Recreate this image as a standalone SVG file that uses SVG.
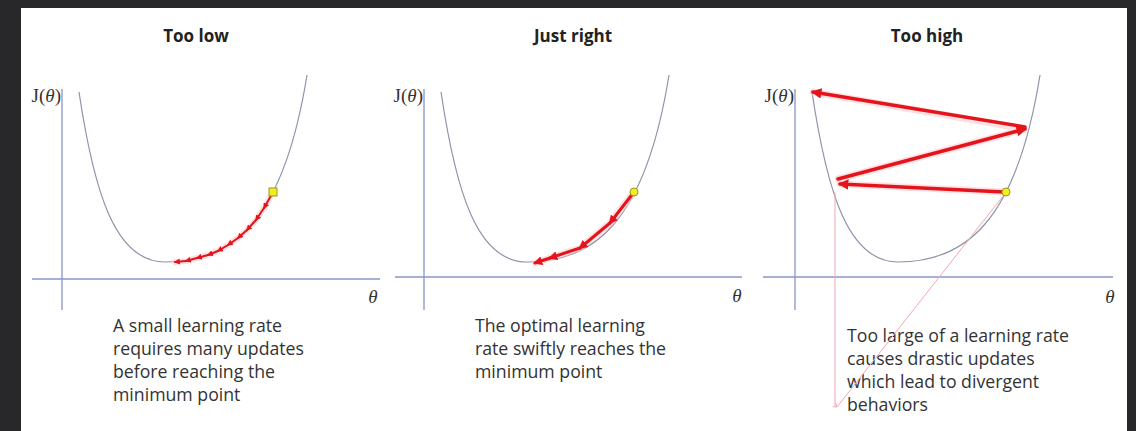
<svg xmlns="http://www.w3.org/2000/svg" width="1136" height="431" viewBox="0 0 1136 431">
<style>
.title{font-family:"Open Sans","Liberation Sans",sans-serif;font-weight:bold;font-size:17px;fill:#222;text-anchor:middle}
.body{font-family:"Open Sans","Liberation Sans",sans-serif;font-size:17.7px;fill:#333}
.math{font-family:"Liberation Serif",serif;font-size:19px;fill:#333}
.axis{stroke:#8a94c6;stroke-width:1.3;fill:none}
.curve{stroke:#8e94aa;stroke-width:1.2;fill:none}
.glow{stroke:#ffc8cc;stroke-linecap:round;fill:none;opacity:.55}
.red{stroke:#e5141c;fill:none;stroke-linecap:round}
.pink{stroke:#f3a6b4;stroke-width:1;fill:none}
.pt{fill:#f2ee22;stroke:#9a9a1a;stroke-width:1}
</style>
<defs>
<marker id="ah" viewBox="0 0 10 10" refX="8" refY="5" markerWidth="3" markerHeight="3" orient="auto">
<path d="M0,0 L10,5 L0,10 z" fill="#e5141c"/>
</marker>
<marker id="ahp" viewBox="0 0 10 10" refX="5" refY="2" markerWidth="6" markerHeight="6" orient="auto" markerUnits="userSpaceOnUse">
<path d="M1,8 L5,2 L9,8" fill="none" stroke="#f3a6b4" stroke-width="1.5"/>
</marker>
<path id="cv" d="M79,92 C94,192 115,262 165,262 C230,262 283,225 307,75"/>
</defs>
<rect width="1136" height="431" fill="#28282b"/>
<rect x="21" y="8" width="1106" height="423" fill="#ffffff"/>

<g id="panel-low">
<text class="title" x="196" y="42">Too low</text>
<text class="math" x="61" y="102" text-anchor="end">J(<tspan font-style="italic">θ</tspan>)</text>
<line class="axis" x1="62" y1="89" x2="62" y2="310"/>
<line class="axis" x1="32" y1="279" x2="380" y2="279"/>
<text class="math" x="373" y="303" text-anchor="middle" font-style="italic">θ</text>
<use href="#cv" class="curve"/>
<text class="body" x="113" y="332">A small learning rate</text>
<text class="body" x="113" y="355">requires many updates</text>
<text class="body" x="113" y="378">before reaching the</text>
<text class="body" x="113" y="401">minimum point</text>
</g>

<g id="panel-right">
<text class="title" x="573" y="42">Just right</text>
<text class="math" x="423" y="102" text-anchor="end">J(<tspan font-style="italic">θ</tspan>)</text>
<line class="axis" x1="424" y1="89" x2="424" y2="310"/>
<line class="axis" x1="395" y1="277" x2="742" y2="277"/>
<text class="math" x="737" y="302" text-anchor="middle" font-style="italic">θ</text>
<use href="#cv" class="curve" transform="translate(362,0)"/>
<text class="body" x="475" y="332">The optimal learning</text>
<text class="body" x="475" y="355">rate swiftly reaches the</text>
<text class="body" x="475" y="378">minimum point</text>
</g>

<g id="panel-high">
<text class="title" x="927" y="42">Too high</text>
<text class="math" x="794" y="102" text-anchor="end">J(<tspan font-style="italic">θ</tspan>)</text>
<line class="axis" x1="795" y1="89" x2="795" y2="310"/>
<line class="axis" x1="763" y1="277" x2="1113" y2="277"/>
<text class="math" x="1110" y="303" text-anchor="middle" font-style="italic">θ</text>
<use href="#cv" class="curve" transform="translate(733,0)"/>
<text class="body" x="847" y="342">Too large of a learning rate</text>
<text class="body" x="847" y="365">causes drastic updates</text>
<text class="body" x="847" y="388">which lead to divergent</text>
<text class="body" x="847" y="411">behaviors</text>
</g>

<g id="connectors">
<path class="glow" stroke-width="6" d="M272,194 L264,208 L256,220 L247,230 L238,238 L228,245 L218,251 L208,255 L197,258 L186,261 L175,262"/>
<g class="red" stroke-width="2" marker-end="url(#ah)">
<line x1="272" y1="194" x2="264" y2="208"/>
<line x1="264" y1="208" x2="256" y2="220"/>
<line x1="256" y1="220" x2="247" y2="230"/>
<line x1="247" y1="230" x2="238" y2="238"/>
<line x1="238" y1="238" x2="228" y2="245"/>
<line x1="228" y1="245" x2="218" y2="251"/>
<line x1="218" y1="251" x2="208" y2="255"/>
<line x1="208" y1="255" x2="197" y2="258"/>
<line x1="197" y1="258" x2="186" y2="261"/>
<line x1="186" y1="261" x2="175" y2="262"/>
</g>
<path class="glow" stroke-width="7" d="M634,192 L610,223 L580,248 L550,258 L535,263"/>
<g class="red" stroke-width="3" marker-end="url(#ah)">
<line x1="634" y1="192" x2="610" y2="223"/>
<line x1="610" y1="223" x2="580" y2="248"/>
<line x1="580" y1="248" x2="550" y2="258"/>
<line x1="550" y1="258" x2="535" y2="263"/>
</g>
<path class="pink" d="M835,192 L835,406"/>
<path class="pink" d="M1003,196 L837,407" marker-end="url(#ahp)"/>
<path class="glow" stroke-width="7" d="M1005,192 L840,184 M838,179 L1025,129 L813,92"/>
<g class="red" stroke-width="3.5" marker-end="url(#ah)">
<line x1="1004" y1="192" x2="840" y2="184"/>
<line x1="838" y1="179" x2="1025" y2="129"/>
<line x1="1025" y1="127" x2="813" y2="92"/>
</g>
</g>

<g id="start-points">
<rect class="pt" x="269" y="188" width="8" height="8"/>
<circle class="pt" cx="634" cy="192" r="4"/>
<circle class="pt" cx="1006" cy="192" r="4"/>
</g>
</svg>
